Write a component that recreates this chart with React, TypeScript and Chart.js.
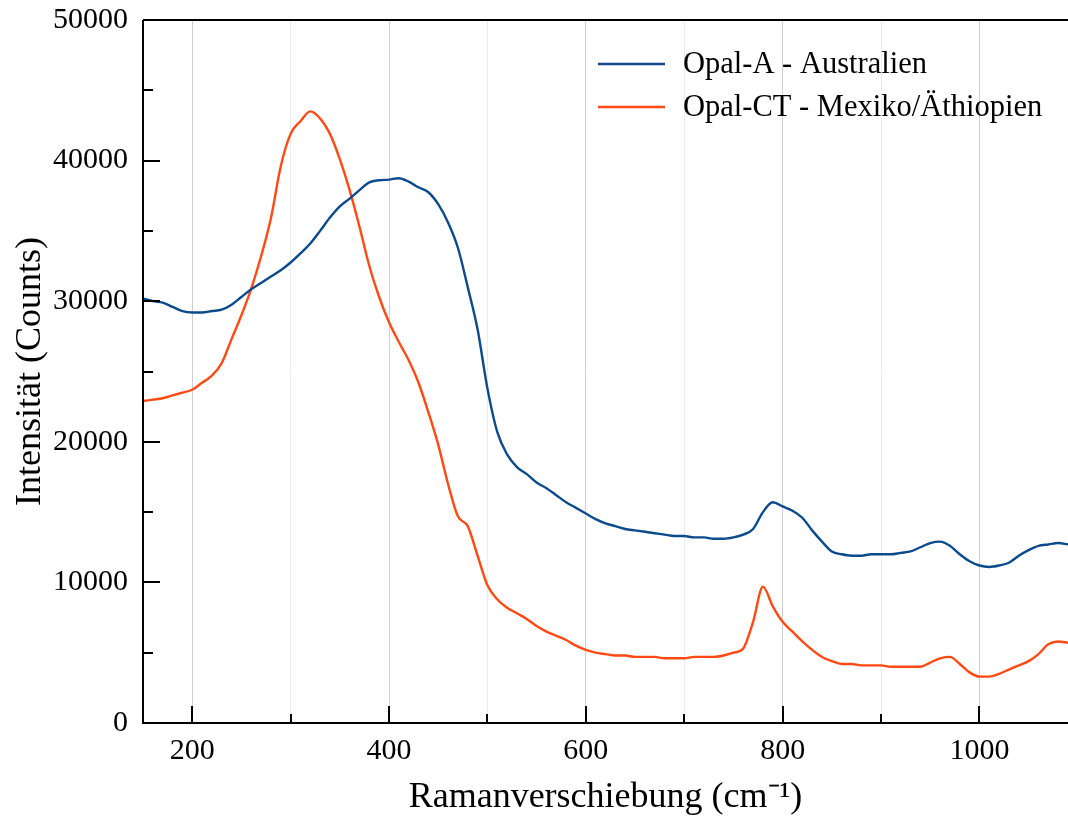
import React, { useEffect, useRef } from "react";
import { Chart, registerables } from "chart.js";

Chart.register(...registerables);

const ramanShift = [
  150, 160, 170, 180, 190, 200, 210, 220, 230, 240, 250, 260, 270, 280, 290, 300, 310, 320, 330, 340,
  350, 360, 370, 380, 390, 400, 410, 420, 430, 440, 450, 460, 470, 480, 490, 500, 510, 520, 530, 540,
  550, 560, 570, 580, 590, 600, 610, 620, 630, 640, 650, 660, 670, 680, 690, 700, 710, 720, 730, 740,
  750, 760, 770, 780, 790, 800, 810, 820, 830, 840, 850, 860, 870, 880, 890, 900, 910, 920, 930, 940,
  950, 960, 970, 980, 990, 1000, 1010, 1020, 1030, 1040, 1050, 1060, 1070, 1080, 1090,
];

const opalA = [
  30200, 30000, 29900, 29600, 29300, 29200, 29200, 29300, 29400, 29750, 30300, 30850, 31300, 31750, 32200, 32750, 33400, 34100, 35000, 35950,
  36750, 37300, 37900, 38450, 38600, 38650, 38750, 38500, 38100, 37750, 36900, 35600, 33800, 31000, 28000, 23800, 20700, 19100, 18200, 17700,
  17100, 16700, 16200, 15700, 15300, 14900, 14500, 14200, 14000, 13800, 13700, 13600, 13500, 13400, 13300, 13300, 13200, 13200, 13100, 13100,
  13200, 13400, 13800, 15000, 15700, 15400, 15100, 14600, 13700, 12900, 12200, 12000, 11900, 11900, 12000, 12000, 12000, 12100, 12200, 12500,
  12800, 12900, 12600, 12000, 11500, 11200, 11100, 11200, 11400, 11900, 12300, 12600, 12700, 12800, 12700,
];

const opalCT = [
  22900, 23000, 23100, 23300, 23500, 23700, 24200, 24700, 25600, 27300, 29000, 30900, 33200, 35900, 39600, 41900, 42800, 43500, 43000, 41900,
  40100, 37900, 35300, 32500, 30300, 28500, 27100, 25800, 24200, 22100, 19800, 17000, 14700, 14000, 11900, 9800, 8800, 8200, 7800, 7400,
  6900, 6500, 6200, 5900, 5500, 5200, 5000, 4900, 4800, 4800, 4700, 4700, 4700, 4600, 4600, 4600, 4700, 4700, 4700, 4800,
  5000, 5300, 7200, 9700, 8300, 7200, 6500, 5800, 5200, 4700, 4400, 4200, 4200, 4100, 4100, 4100, 4000, 4000, 4000, 4000,
  4300, 4600, 4700, 4200, 3600, 3300, 3300, 3500, 3800, 4100, 4400, 4900, 5600, 5800, 5700,
];

const seriesLabels = ["Opal-A - Australien", "Opal-CT - Mexiko/Äthiopien"];
const seriesColors = ["#0c4a8c", "#ff4a14"];
const xTickValues = [200, 300, 400, 500, 600, 700, 800, 900, 1000];
const yTickValues = [0, 5000, 10000, 15000, 20000, 25000, 30000, 35000, 40000, 45000, 50000];

const FONT = "'Liberation Serif', 'Times New Roman', serif";

export default function App() {
  const ref = useRef<HTMLCanvasElement | null>(null);

  useEffect(() => {
    document.body.style.margin = "0";
    const canvas = ref.current;
    if (!canvas) return;

    const frame = {
      id: "frame",
      afterDraw(chart: any) {
        const { ctx, chartArea, scales } = chart;
        const { left, right, top, bottom } = chartArea;
        ctx.save();
        ctx.strokeStyle = "#000";
        ctx.lineWidth = 2;
        ctx.beginPath();
        ctx.moveTo(left, top);
        ctx.lineTo(left, bottom);
        ctx.lineTo(right, bottom);
        ctx.moveTo(left, top);
        ctx.lineTo(right, top);
        ctx.stroke();
        // inward ticks
        ctx.beginPath();
        for (const v of xTickValues) {
          const x = Math.round(scales.x.getPixelForValue(v));
          const len = v % 200 === 0 ? 17 : 9;
          ctx.moveTo(x, bottom);
          ctx.lineTo(x, bottom - len);
        }
        for (const v of yTickValues) {
          const y = Math.round(scales.y.getPixelForValue(v));
          const len = v % 10000 === 0 ? 17 : 10;
          ctx.moveTo(left, y);
          ctx.lineTo(left + len, y);
        }
        ctx.stroke();
        // legend
        ctx.font = `30.5px ${FONT}`;
        ctx.textBaseline = "middle";
        ctx.textAlign = "left";
        const legendY = [64, 107];
        seriesLabels.forEach((lab, i) => {
          ctx.strokeStyle = seriesColors[i];
          ctx.lineWidth = 2.5;
          ctx.beginPath();
          ctx.moveTo(598, legendY[i]);
          ctx.lineTo(665, legendY[i]);
          ctx.stroke();
          ctx.fillStyle = "#000";
          ctx.fillText(lab, 683, legendY[i] + 1);
        });
        ctx.restore();
      },
    };

    const chart = new Chart(canvas, {
      type: "line",
      data: {
        datasets: [
          {
            label: seriesLabels[0],
            data: ramanShift.map((x, i) => ({ x, y: opalA[i] })),
            borderColor: seriesColors[0],
            borderWidth: 2.4,
            pointRadius: 0,
            cubicInterpolationMode: "monotone",
          },
          {
            label: seriesLabels[1],
            data: ramanShift.map((x, i) => ({ x, y: opalCT[i] })),
            borderColor: seriesColors[1],
            borderWidth: 2.4,
            pointRadius: 0,
            cubicInterpolationMode: "monotone",
          },
        ],
      },
      options: {
        responsive: false,
        animation: false,
        layout: { padding: { top: 20, right: 0, left: 0, bottom: 0 } },
        plugins: { legend: { display: false }, tooltip: { enabled: false } },
        scales: {
          x: {
            type: "linear",
            min: 150,
            max: 1090,
            afterBuildTicks: (scale: any) => {
              scale.ticks = xTickValues.map((v) => ({ value: v }));
            },
            afterFit: (scale: any) => {
              scale.height = 93;
              scale.paddingLeft = 0;
              scale.paddingRight = 0;
            },
            grid: {
              drawTicks: false,
              color: (c: any) => (c.tick && c.tick.value % 200 === 0 ? "#cfcfcf" : "#ececec"),
              lineWidth: 1,
            },
            border: { display: false },
            ticks: {
              color: "#000",
              font: { family: FONT, size: 30 },
              padding: 10,
              maxRotation: 0,
              autoSkip: false,
              callback: (v: any) => (Number(v) % 200 === 0 ? String(v) : ""),
            },
            title: {
              display: true,
              text: "Ramanverschiebung (cm⁻¹)",
              color: "#000",
              font: { family: FONT, size: 36, lineHeight: 1.0 },
              padding: { top: 0, bottom: 0 },
            },
          },
          y: {
            type: "linear",
            min: 0,
            max: 50000,
            afterBuildTicks: (scale: any) => {
              scale.ticks = yTickValues.map((v) => ({ value: v }));
            },
            afterFit: (scale: any) => {
              scale.width = 143;
              scale.paddingTop = 0;
              scale.paddingBottom = 0;
            },
            grid: { display: false, drawTicks: false },
            border: { display: false },
            ticks: {
              color: "#000",
              font: { family: FONT, size: 30 },
              padding: 15,
              autoSkip: false,
              callback: (v: any) => (Number(v) % 10000 === 0 ? String(v) : ""),
            },
            title: {
              display: true,
              text: "Intensität (Counts)",
              color: "#000",
              font: { family: FONT, size: 36 },
              padding: { top: 9, bottom: 0 },
            },
          },
        },
      },
      plugins: [frame],
    });

    return () => chart.destroy();
  }, []);

  return (
    <div style={{ position: "absolute", left: 0, top: 0, width: 1068, height: 816, background: "#fff" }}>
      <canvas ref={ref} width={1068} height={816} />
    </div>
  );
}
